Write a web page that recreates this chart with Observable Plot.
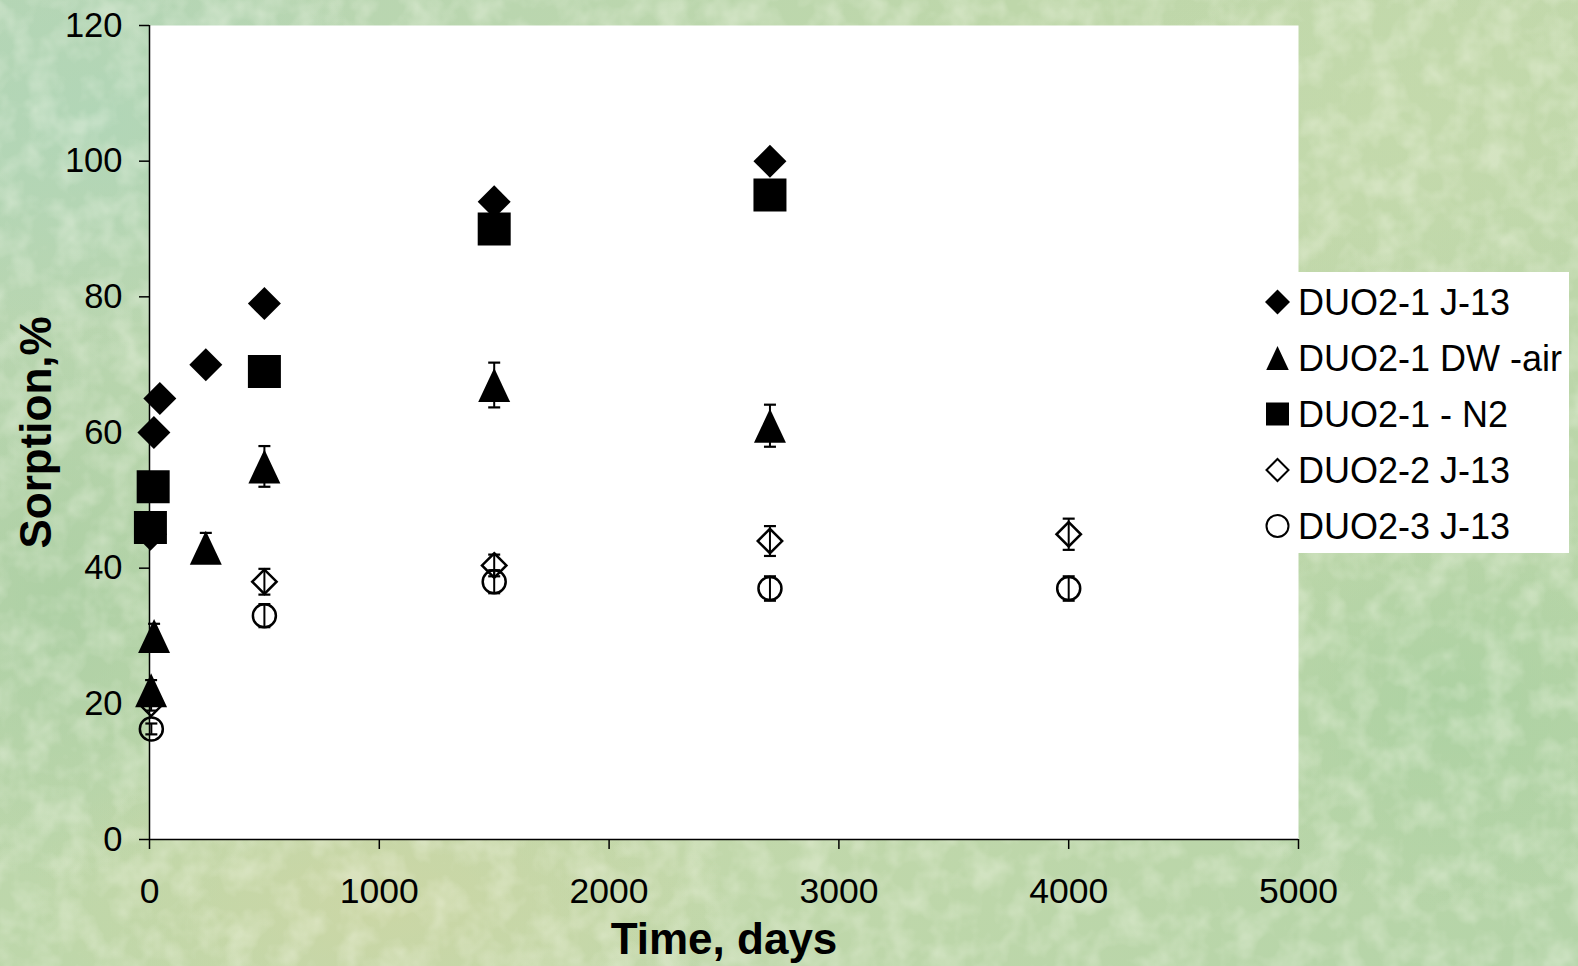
<!DOCTYPE html>
<html>
<head>
<meta charset="utf-8">
<script src="https://cdn.jsdelivr.net/npm/d3@7"></script>
<script src="https://cdn.jsdelivr.net/npm/@observablehq/plot@0.6"></script>
<style>
  html, body { margin: 0; padding: 0; }
  body {
    width: 1578px; height: 966px; overflow: hidden; position: relative;
    font-family: "Liberation Sans", Arial, sans-serif;
    background:
      radial-gradient(ellipse 420px 300px at 100px 120px, rgba(176,214,184,0.8), rgba(176,214,184,0) 70%),
      radial-gradient(ellipse 500px 260px at 380px 900px, rgba(206,214,164,0.8), rgba(206,214,164,0) 70%),
      radial-gradient(ellipse 380px 300px at 1450px 700px, rgba(168,208,160,0.7), rgba(168,208,160,0) 70%),
      radial-gradient(ellipse 420px 260px at 1400px 120px, rgba(196,218,172,0.8), rgba(196,218,172,0) 70%),
      radial-gradient(ellipse 300px 400px at 60px 600px, rgba(170,206,162,0.8), rgba(170,206,162,0) 70%),
      linear-gradient(135deg, #b6d5b4 0%, #bed7aa 40%, #c2d8ab 60%, #b4d4a8 100%);
  }
  #texture { position: absolute; left: 0; top: 0; }
  #chart { position: absolute; left: 0; top: 0; }
  #legend { position: absolute; left: 1255px; top: 272px; width: 314px; height: 281px; background: #fff; }
</style>
</head>
<body>
<svg id="texture" width="1578" height="966">
  <defs>
    <filter id="grain" x="0" y="0" width="100%" height="100%">
      <feTurbulence type="fractalNoise" baseFrequency="0.035" numOctaves="3" seed="7"/>
      <feColorMatrix type="matrix" values="0 0 0 0 1  0 0 0 0 1  0 0 0 0 0.92  0 0 0 -2.2 1.35"/>
    </filter>
  </defs>
  <rect width="1578" height="966" filter="url(#grain)" opacity="0.3"/>
</svg>
<div id="chart"></div>
<div id="legend"></div>
<script>
// Axis ticks
const xTicks = [0, 1000, 2000, 3000, 4000, 5000];
const yTicks = [0, 20, 40, 60, 80, 100, 120];

// Series names
const seriesNames = ["DUO2-1 J-13", "DUO2-1 DW -air", "DUO2-1 - N2", "DUO2-2 J-13", "DUO2-3 J-13"];

// DUO2-1 in J-13 water
const j13Days = [4, 19, 45, 245, 500, 1500, 2700];
const j13Sorption = [45, 60, 65, 70, 79, 94, 100];

// DUO2-1 in deionized water, air
const dwAirDays = [7, 20, 245, 500, 1500, 2700];
const dwAirSorption = [22, 30, 43, 55, 67, 61];
const dwAirError = [1.5, 1.8, 2.2, 3, 3.3, 3.1];

// DUO2-1 under nitrogen
const n2Days = [4, 16, 500, 1500, 2700];
const n2Sorption = [46, 52, 69, 90, 95];

// DUO2-2 in J-13 water
const duo22Days = [7, 500, 1500, 2700, 4000];
const duo22Sorption = [20, 38, 40.4, 44, 45];
const duo22Error = [1, 1.9, 1.6, 2.2, 2.3];

// DUO2-3 in J-13 water
const duo23Days = [8, 500, 1500, 2700, 4000];
const duo23Sorption = [16.3, 33, 38, 37, 37];
const duo23Error = [0.8, 1.7, 1.7, 1.8, 1.8];

// Build row tables
const rows = (days, vals, errs) => days.map((d, i) => ({days: d, sorption: vals[i], err: errs ? errs[i] : 0}));
const j13 = rows(j13Days, j13Sorption);
const dwAir = rows(dwAirDays, dwAirSorption, dwAirError);
const n2 = rows(n2Days, n2Sorption);
const duo22 = rows(duo22Days, duo22Sorption, duo22Error);
const duo23 = rows(duo23Days, duo23Sorption, duo23Error);

// Custom symbols: r is the half-extent of the marker
const radius = size => Math.sqrt(size / Math.PI);
const diamond = {draw(ctx, size) { const r = radius(size); ctx.moveTo(0, -r); ctx.lineTo(r, 0); ctx.lineTo(0, r); ctx.lineTo(-r, 0); ctx.closePath(); }};
const square = {draw(ctx, size) { const r = radius(size); ctx.moveTo(-r, -r); ctx.lineTo(r, -r); ctx.lineTo(r, r); ctx.lineTo(-r, r); ctx.closePath(); }};
const triangle = {draw(ctx, size) { const r = radius(size); ctx.moveTo(0, -r); ctx.lineTo(0.94 * r, r); ctx.lineTo(-0.94 * r, r); ctx.closePath(); }};
const circle = {draw(ctx, size) { const r = radius(size); ctx.moveTo(r, 0); ctx.arc(0, 0, r, 0, 2 * Math.PI); ctx.closePath(); }};
const cap = {draw(ctx, size) { const r = radius(size); ctx.moveTo(-r, 0); ctx.lineTo(r, 0); }};

// Error bars with caps
const errorBars = (data) => [
  Plot.ruleX(data, {x: "days", y1: d => d.sorption - d.err, y2: d => d.sorption + d.err, stroke: "black", strokeWidth: 2}),
  Plot.dot(data, {x: "days", y: d => d.sorption - d.err, symbol: cap, r: 6, stroke: "black", fill: "none", strokeWidth: 2.2}),
  Plot.dot(data, {x: "days", y: d => d.sorption + d.err, symbol: cap, r: 6, stroke: "black", fill: "none", strokeWidth: 2.2})
];

const chart = Plot.plot({
  width: 1578,
  height: 966,
  marginLeft: 149,
  marginRight: 280,
  marginTop: 25,
  marginBottom: 127,
  style: {background: "transparent", color: "black", fontFamily: "'Liberation Sans', Arial, sans-serif", overflow: "visible"},
  x: {domain: [0, 5000]},
  y: {domain: [0, 120]},
  marks: [
    Plot.frame({fill: "white", stroke: "none"}),
    Plot.axisX({ticks: xTicks, tickFormat: d3.format("d"), tickSize: 10, tickPadding: 28, fontSize: 35.5, label: null, strokeWidth: 1.5}),
    Plot.axisY({ticks: yTicks, tickFormat: d3.format("d"), tickSize: 10, tickPadding: 17, fontSize: 34.5, label: null, strokeWidth: 1.5}),
    Plot.ruleY([0], {stroke: "black", strokeWidth: 1.5}),
    Plot.ruleX([0], {stroke: "black", strokeWidth: 1.5}),
    Plot.text(["Time, days"], {frameAnchor: "bottom", lineAnchor: "middle", textAnchor: "middle", dy: 100, fontSize: 44, fontWeight: "bold", fill: "black"}),
    Plot.text(["Sorption,%"], {frameAnchor: "left", lineAnchor: "middle", textAnchor: "middle", dx: -113, rotate: -90, fontSize: 44, fontWeight: "bold", fill: "black"}),
    // DUO2-1 J-13
    Plot.dot(j13, {x: "days", y: "sorption", symbol: diamond, r: 16.5, fill: "black", stroke: "none"}),
    // DUO2-1 DW -air
    ...errorBars(dwAir),
    Plot.dot(dwAir, {x: "days", y: "sorption", symbol: triangle, r: 17, fill: "black", stroke: "none"}),
    // DUO2-1 - N2
    Plot.dot(n2, {x: "days", y: "sorption", symbol: square, r: 16.5, fill: "black", stroke: "none"}),
    // DUO2-2 J-13
    Plot.dot(duo22, {x: "days", y: "sorption", symbol: diamond, r: 12.2, fill: "none", stroke: "black", strokeWidth: 2.5}),
    ...errorBars(duo22),
    // DUO2-3 J-13
    Plot.dot(duo23, {x: "days", y: "sorption", symbol: circle, r: 11.5, fill: "none", stroke: "black", strokeWidth: 2.5}),
    ...errorBars(duo23)
  ]
});
document.getElementById("chart").append(chart);

// Legend
const legendSymbols = [
  {symbol: diamond, r: 12.5, fill: "black", stroke: "none"},
  {symbol: triangle, r: 12, fill: "black", stroke: "none"},
  {symbol: square, r: 11.5, fill: "black", stroke: "none"},
  {symbol: diamond, r: 11, fill: "none", stroke: "black"},
  {symbol: circle, r: 11, fill: "none", stroke: "black"}
];
const legend = d3.select("#legend").append("svg").attr("width", 314).attr("height", 281);
seriesNames.forEach((name, i) => {
  const s = legendSymbols[i];
  const cy = 30 + i * 56;
  legend.append("path")
    .attr("transform", `translate(22.5,${cy})`)
    .attr("d", d3.symbol(s.symbol, Math.PI * s.r * s.r)())
    .attr("fill", s.fill).attr("stroke", s.stroke).attr("stroke-width", 2);
  legend.append("text")
    .attr("x", 43).attr("y", cy).attr("dy", "0.35em")
    .attr("font-size", 36).attr("fill", "black")
    .attr("font-family", "'Liberation Sans', Arial, sans-serif")
    .text(name);
});
</script>
</body>
</html>
